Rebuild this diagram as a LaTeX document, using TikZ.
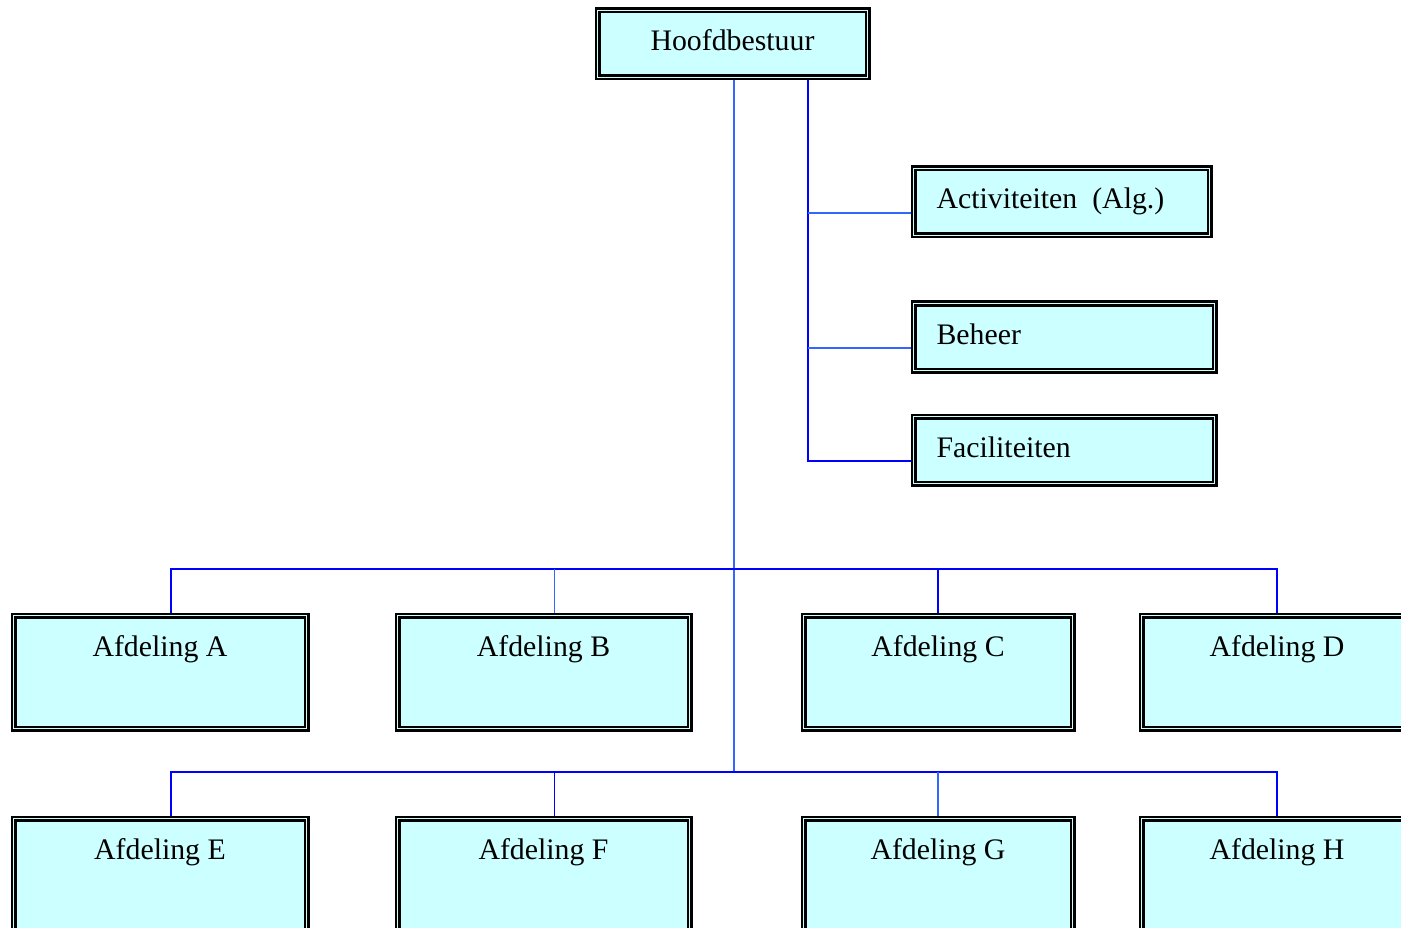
\documentclass[tikz,border=0pt]{standalone}
\usepackage{fontspec}
\setmainfont{Liberation Serif}
\usetikzlibrary{backgrounds}
\definecolor{boxfill}{HTML}{CCFFFF}
\definecolor{linea}{HTML}{0000FF}
\definecolor{lineb}{HTML}{3366FF}
\begin{document}
\begin{tikzpicture}[x=1pt,y=-1pt,
  dbox/.style={draw=black, line width=2.2pt, double=boxfill, double distance=1.6pt,
    fill=boxfill, font=\fontsize{29.8}{34}\selectfont, inner sep=0pt},
  sidebox/.style={dbox, anchor=west, minimum height=67pt, text height=20pt, text depth=6pt,
    align=left, inner xsep=23pt},
  dept/.style={dbox, anchor=north, minimum height=113pt, inner ysep=20pt,
    text height=20.5pt, text depth=52.5pt},
  conna/.style={draw=linea, line width=1.6pt},
  connb/.style={draw=lineb, line width=1.6pt}]
\useasboundingbox (0,0) rectangle (1401,928);
\clip (0,0) rectangle (1401,928);

\node[dbox, minimum width=270pt, minimum height=67pt, text height=20pt, text depth=6pt] (hb) at (732.5,44) {Hoofdbestuur};

\node[sidebox, text width=250pt] (act) at (912.5,202) {Activiteiten\hspace{15pt}(Alg.)};
\node[sidebox, text width=255pt] (beh) at (912.5,337) {Beheer};
\node[sidebox, text width=255pt] (fac) at (912.5,450) {Faciliteiten};

\node[dept, minimum width=293pt] (a) at (160,614.5) {Afdeling A};
\node[dept, minimum width=292pt] (b) at (543.5,614.5) {Afdeling B};
\node[dept, minimum width=269pt] (c) at (938,614.5) {Afdeling C};
\node[dept, minimum width=271pt] (d) at (1277,614.5) {Afdeling D};

\node[dept, minimum width=293pt] (e) at (160,817.5) {Afdeling E};
\node[dept, minimum width=292pt] (f) at (543.5,817.5) {Afdeling F};
\node[dept, minimum width=269pt] (g) at (938,817.5) {Afdeling G};
\node[dept, minimum width=271pt] (h) at (1277,817.5) {Afdeling H};

\coordinate (j1) at (734,569);
\coordinate (j2) at (734,772);
\coordinate (k) at (808,100);

\begin{scope}[on background layer]
  % main trunk
  \draw[connb] ([xshift=1.5pt]hb.south) -- (j2);
  % side trunk
  \draw[conna] (hb.south -| k) |- ([yshift=-11pt]fac.west);
  \draw[connb] ([yshift=-11pt]act.west -| k) -- ([yshift=-11pt]act.west);
  \draw[connb] ([yshift=-11pt]beh.west -| k) -- ([yshift=-11pt]beh.west);
  % upper bus
  \draw[conna] ([xshift=11pt]a.north) -- ([xshift=11pt]a.north |- j1) -| (d.north);
  \draw[connb] ([xshift=11pt]b.north) -- ([xshift=11pt]b.north |- j1);
  \draw[conna] (c.north) -- (c.north |- j1);
  % lower bus
  \draw[conna] ([xshift=11pt]e.north) -- ([xshift=11pt]e.north |- j2) -| (h.north);
  \draw[conna] ([xshift=11pt]f.north) -- ([xshift=11pt]f.north |- j2);
  \draw[connb] (g.north) -- (g.north |- j2);
\end{scope}
\end{tikzpicture}
\end{document}
